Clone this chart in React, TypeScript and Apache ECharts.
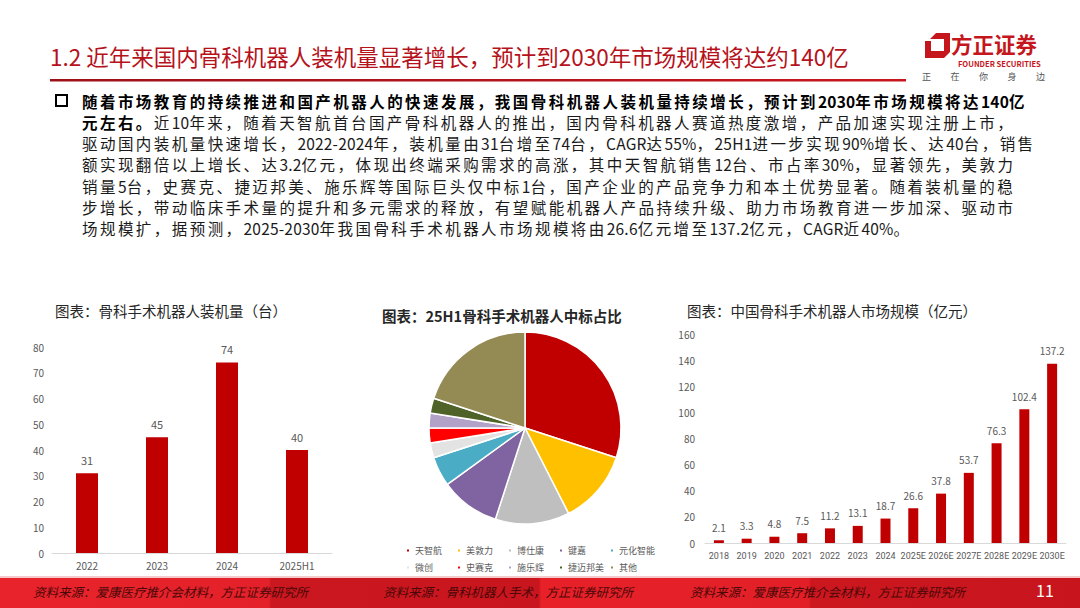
import React, { useEffect, useRef } from "react";
import * as echarts from "echarts";

const FONT = '"Noto Sans CJK SC", "Noto Sans", sans-serif';
const NUMFONT = 'Roboto, "Noto Sans", sans-serif';

const installCategories = ["2022", "2023", "2024", "2025H1"];
const installValues = [31, 45, 74, 40];
const installTicks = [0, 10, 20, 30, 40, 50, 60, 70, 80];

const pieNames = ["天智航", "美敦力", "博仕康", "键嘉", "元化智能", "微创", "史赛克", "施乐辉", "捷迈邦美", "其他"];
const pieValues = [12, 5, 5, 4, 2, 1, 1, 1, 1, 8];
const pieColors = ["#c00000", "#ffc000", "#bfbfbf", "#8064a2", "#4bacc6", "#e3e3e3", "#ff0000", "#b3a2c7", "#4f6228", "#948a54"];

const marketCategories = ["2018", "2019", "2020", "2021", "2022", "2023", "2024", "2025E", "2026E", "2027E", "2028E", "2029E", "2030E"];
const marketValues = [2.1, 3.3, 4.8, 7.5, 11.2, 13.1, 18.7, 26.6, 37.8, 53.7, 76.3, 102.4, 137.2];

const titleText = "1.2 近年来国内骨科机器人装机量显著增长，预计到2030年市场规模将达约140亿";
// each line: [bold part, normal part]
const bodyLines: [string, string][] = [
  ["随着市场教育的持续推进和国产机器人的快速发展，我国骨科机器人装机量持续增长，预计到2030年市场规模将达140亿", ""],
  ["元左右。", "近10年来，随着天智航首台国产骨科机器人的推出，国内骨科机器人赛道热度激增，产品加速实现注册上市，"],
  ["", "驱动国内装机量快速增长，2022-2024年，装机量由31台增至74台，CAGR达55%，25H1进一步实现90%增长、达40台，销售"],
  ["", "额实现翻倍以上增长、达3.2亿元，体现出终端采购需求的高涨，其中天智航销售12台、市占率30%，显著领先，美敦力"],
  ["", "销量5台，史赛克、捷迈邦美、施乐辉等国际巨头仅中标1台，国产企业的产品竞争力和本土优势显著。随着装机量的稳"],
  ["", "步增长，带动临床手术量的提升和多元需求的释放，有望赋能机器人产品持续升级、助力市场教育进一步加深、驱动市"],
  ["", "场规模扩，据预测，2025-2030年我国骨科手术机器人市场规模将由26.6亿元增至137.2亿元，CAGR近40%。"],
];
const chartTitles = [
  "图表：骨科手术机器人装机量（台）",
  "图表：25H1骨科手术机器人中标占比",
  "图表：中国骨科手术机器人市场规模（亿元）",
];
const sources = [
  "资料来源：爱康医疗推介会材料，方正证券研究所",
  "资料来源：骨科机器人手术，方正证券研究所",
  "资料来源：爱康医疗推介会材料，方正证券研究所",
];
const sloganChars = ["正", "在", "你", "身", "边"];

function runs(text: string) {
  const parts = text.match(/[\x00-\x7f]+|[^\x00-\x7f]+/g) || [];
  return parts.map((p, i) => (
    <span key={i} style={{ letterSpacing: /[\x00-\x7f]/.test(p[0]) ? 0.2 : 2.45 }}>
      {p}
    </span>
  ));
}

export default function App() {
  const ref = useRef<HTMLDivElement>(null);

  useEffect(() => {
    if (!ref.current) return;
    const chart = echarts.init(ref.current, null, { renderer: "svg" });

    const graphics: any[] = [];
    // title
    graphics.push({
      type: "text",
      left: 50,
      top: 45,
      style: { text: titleText, font: `22.5px ${FONT}`, fill: "#b5121b" },
    });
    graphics.push({
      type: "rect",
      shape: { x: 50, y: 79, width: 856, height: 2.5 },
      style: {
        fill: new echarts.graphic.LinearGradient(0, 0, 1, 0, [
          { offset: 0, color: "#9e1018" },
          { offset: 1, color: "#c8161e" },
        ]),
      },
    });
    // logo
    graphics.push({
      type: "polygon",
      shape: { points: [[936, 33], [950, 33], [950, 52], [944, 58], [944, 39], [930, 39]] },
      style: { fill: "#c4161c" },
    });
    graphics.push({
      type: "polygon",
      shape: { points: [[925, 41], [931, 41], [931, 51], [944, 51], [944, 58], [925, 58]] },
      style: { fill: "#c4161c" },
    });
    graphics.push({
      type: "text",
      left: 951,
      top: 31,
      style: { text: "方正证券", font: `bold 21.5px ${FONT}`, fill: "#c4161c", lineHeight: 24 },
    });
    graphics.push({
      type: "text",
      left: 958,
      top: 59,
      style: { text: "FOUNDER SECURITIES", font: `bold 7.6px ${FONT}`, fill: "#c4161c", lineHeight: 9 },
    });
    sloganChars.forEach((c, i) => {
      graphics.push({
        type: "text",
        left: 922 + i * 28.5,
        top: 72,
        style: { text: c, font: `9px ${FONT}`, fill: "#555555" },
      });
    });
    // bullet
    graphics.push({
      type: "rect",
      shape: { x: 56, y: 95, width: 11, height: 11 },
      style: { fill: "none", stroke: "#000", lineWidth: 2 },
    });
    // chart titles
    const titlePos = [
      [55, 303, "normal"],
      [382, 308, "bold"],
      [687, 303, "normal"],
    ];
    chartTitles.forEach((t, i) => {
      graphics.push({
        type: "text",
        left: titlePos[i][0],
        top: titlePos[i][1],
        style: { text: t, font: `${titlePos[i][2]} 14.5px ${FONT}`, fill: "#262626" },
      });
    });
    // footer
    graphics.push({
      type: "rect",
      shape: { x: 0, y: 576, width: 1080, height: 2 },
      style: { fill: "#f3c9cb" },
    });
    graphics.push({
      type: "rect",
      shape: { x: 0, y: 578, width: 1080, height: 30 },
      style: {
        fill: new echarts.graphic.LinearGradient(0, 0, 1, 0, [
          { offset: 0, color: "#e8232b" },
          { offset: 0.249, color: "#e4212a" },
          { offset: 0.251, color: "#cb171f" },
          { offset: 0.499, color: "#c9151e" },
          { offset: 0.501, color: "#e82129" },
          { offset: 0.749, color: "#e21f27" },
          { offset: 0.751, color: "#cc171f" },
          { offset: 1, color: "#c8151d" },
        ]),
      },
    });
    const srcX = [33, 383, 690];
    sources.forEach((s, i) => {
      graphics.push({
        type: "text",
        left: srcX[i],
        top: 585,
        style: { text: s, font: `italic 12.5px ${FONT}`, fill: "#4a0808" },
      });
    });
    graphics.push({
      type: "text",
      left: 1036,
      top: 582,
      style: { text: "11", font: `16px ${FONT}`, fill: "#ffffff" },
    });

    const axisLabel = { color: "#595959", fontSize: 10, fontFamily: FONT };

    chart.setOption({
      animation: false,
      backgroundColor: "#ffffff",
      textStyle: { fontFamily: FONT },
      graphic: graphics,
      grid: [
        { left: 52, right: 748, top: 347, bottom: 55, containLabel: false },
        { left: 705, right: 14, top: 334, bottom: 65, containLabel: false },
      ],
      xAxis: [
        {
          type: "category",
          gridIndex: 0,
          data: installCategories,
          axisLine: { lineStyle: { color: "#d9d9d9" } },
          axisTick: { show: false },
          axisLabel: { ...axisLabel, margin: 7 },
        },
        {
          type: "category",
          gridIndex: 1,
          data: marketCategories,
          axisLine: { lineStyle: { color: "#d9d9d9" } },
          axisTick: { show: false },
          axisLabel: { ...axisLabel, fontFamily: NUMFONT, fontSize: 9, margin: 8, interval: 0 },
        },
      ],
      yAxis: [
        {
          type: "value",
          gridIndex: 0,
          min: installTicks[0],
          max: installTicks[installTicks.length - 1],
          interval: 10,
          splitLine: { show: false },
          axisLine: { show: false },
          axisTick: { show: false },
          axisLabel: { ...axisLabel, margin: 8 },
        },
        {
          type: "value",
          gridIndex: 1,
          min: 0,
          max: 160,
          interval: 20,
          splitLine: { show: false },
          axisLine: { show: false },
          axisTick: { show: false },
          axisLabel: { ...axisLabel, margin: 10 },
        },
      ],
      legend: {
        left: 400,
        top: 537,
        width: 260,
        orient: "horizontal",
        itemWidth: 4,
        itemHeight: 4,
        itemGap: 0,
        icon: "rect",
        data: pieNames,
        textStyle: { fontSize: 9, color: "#595959", width: 41, lineHeight: 17, fontFamily: FONT },
      },
      series: [
        {
          type: "bar",
          xAxisIndex: 0,
          yAxisIndex: 0,
          data: installValues,
          barWidth: 22,
          itemStyle: { color: "#c00000" },
          label: { show: true, position: "top", color: "#595959", fontSize: 11, distance: 8 },
        },
        {
          type: "bar",
          xAxisIndex: 1,
          yAxisIndex: 1,
          data: marketValues,
          barWidth: 10,
          itemStyle: { color: "#c00000" },
          label: { show: true, position: "top", color: "#595959", fontSize: 10, distance: 8 },
        },
        {
          type: "pie",
          center: [525, 428],
          radius: 96,
          startAngle: 90,
          clockwise: true,
          label: { show: false },
          labelLine: { show: false },
          itemStyle: { borderColor: "#ffffff", borderWidth: 1.5 },
          data: pieNames.map((n, i) => ({ name: n, value: pieValues[i], itemStyle: { color: pieColors[i] } })),
        },
      ],
    });

    return () => chart.dispose();
  }, []);

  return (
    <div style={{ position: "absolute", left: 0, top: 0, width: 1080, height: 608, background: "#fff" }}>
      <div ref={ref} style={{ position: "absolute", left: 0, top: 0, width: 1080, height: 608 }} />
      <div
        style={{
          position: "absolute",
          left: 82,
          top: 90.5,
          fontFamily: FONT,
          fontSize: 15.5,
          color: "#1a1a1a",
          pointerEvents: "none",
        }}
      >
        {bodyLines.map((l, i) => (
          <div key={i} style={{ height: 21.3, lineHeight: "21.3px", whiteSpace: "nowrap" }}>
            {l[0] ? <span style={{ fontWeight: "bold", color: "#000" }}>{runs(l[0])}</span> : null}
            {l[1] ? <span>{runs(l[1])}</span> : null}
          </div>
        ))}
      </div>
    </div>
  );
}
